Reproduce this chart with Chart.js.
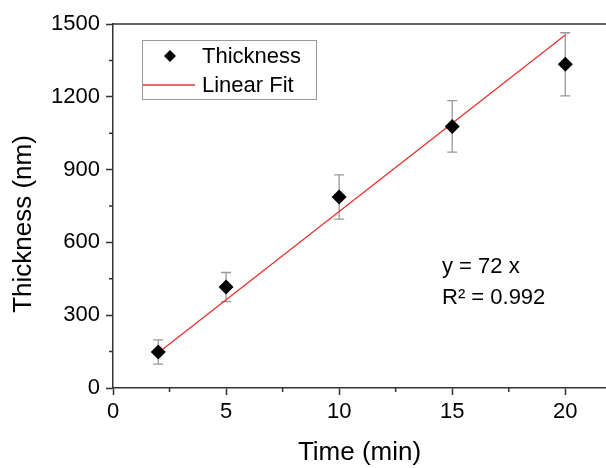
<!DOCTYPE html>
<html>
<head>
<meta charset="utf-8">
<script src="https://cdn.jsdelivr.net/npm/chart.js@4.4.0/dist/chart.umd.min.js"></script>
<style>
  html, body { margin: 0; padding: 0; background: #fff; overflow: hidden; }
  canvas { display: block; }
</style>
</head>
<body>
<canvas id="thicknessChart" width="606" height="468"></canvas>
<script>
// Данные
const times = [2, 5, 10, 15, 20];
const thickness = [148, 416, 787, 1078, 1334];
const thicknessErr = [50, 60, 91, 106, 130];
const fitTimes = [2, 20];
const fitValues = [145, 1455];
const xMax = 21.8;
const xTicks = [0, 5, 10, 15, 20];
const xMinorTicks = [2.5, 7.5, 12.5, 17.5];
const yTicks = [0, 300, 600, 900, 1200, 1500];
const yMinorTicks = [150, 450, 750, 1050, 1350];
const fitText = ["y = 72 x", "R² = 0.992"];

const FONT = "'Liberation Sans', Arial, sans-serif";
const AXIS_COLOR = "#333";

// Планки погрешностей
const errorBars = {
  id: "errorBars",
  beforeDatasetsDraw(chart) {
    const { ctx, scales: { x, y } } = chart;
    ctx.save();
    ctx.strokeStyle = "#999";
    ctx.lineWidth = 1.3;
    times.forEach((t, i) => {
      const px = x.getPixelForValue(t);
      const top = y.getPixelForValue(thickness[i] + thicknessErr[i]);
      const bottom = y.getPixelForValue(thickness[i] - thicknessErr[i]);
      ctx.beginPath();
      ctx.moveTo(px, top);
      ctx.lineTo(px, bottom);
      ctx.moveTo(px - 5, top);
      ctx.lineTo(px + 5, top);
      ctx.moveTo(px - 5, bottom);
      ctx.lineTo(px + 5, bottom);
      ctx.stroke();
    });
    ctx.restore();
  },
};

// Рамка сверху, малые деления, легенда, подписи
const decorations = {
  id: "decorations",
  afterDraw(chart) {
    const { ctx, chartArea, scales: { x, y } } = chart;
    ctx.save();

    // верхняя линия рамки
    ctx.strokeStyle = AXIS_COLOR;
    ctx.lineWidth = 1.5;
    ctx.beginPath();
    ctx.moveTo(chartArea.left, chartArea.top);
    ctx.lineTo(chartArea.right, chartArea.top);
    ctx.stroke();

    // малые деления
    ctx.beginPath();
    xMinorTicks.forEach((v) => {
      const px = x.getPixelForValue(v);
      ctx.moveTo(px, chartArea.bottom);
      ctx.lineTo(px, chartArea.bottom + 4);
    });
    yMinorTicks.forEach((v) => {
      const py = y.getPixelForValue(v);
      ctx.moveTo(chartArea.left, py);
      ctx.lineTo(chartArea.left - 4, py);
    });
    ctx.stroke();

    // легенда
    const ds = chart.data.datasets;
    ctx.strokeStyle = "#999";
    ctx.lineWidth = 1;
    ctx.strokeRect(142.5, 40.5, 174, 59);

    ctx.fillStyle = "#000";
    ctx.beginPath();
    ctx.moveTo(170, 50);
    ctx.lineTo(176, 56);
    ctx.lineTo(170, 62);
    ctx.lineTo(164, 56);
    ctx.closePath();
    ctx.fill();

    ctx.strokeStyle = ds[1].borderColor;
    ctx.lineWidth = 1.5;
    ctx.beginPath();
    ctx.moveTo(143, 85);
    ctx.lineTo(195, 85);
    ctx.stroke();

    ctx.font = "22px " + FONT;
    ctx.textBaseline = "middle";
    ctx.textAlign = "left";
    ctx.fillText(ds[0].label, 202, 57);
    ctx.fillText(ds[1].label, 202, 86);

    // уравнение аппроксимации
    ctx.fillText(fitText[0], 442, 267);
    ctx.fillText(fitText[1], 442, 298);

    // подпись оси Y
    ctx.font = "26px " + FONT;
    ctx.translate(24, 224);
    ctx.rotate(-Math.PI / 2);
    ctx.textAlign = "center";
    ctx.fillText("Thickness (nm)", 0, 0);

    ctx.restore();
  },
};

const ctx = document.getElementById("thicknessChart").getContext("2d");
new Chart(ctx, {
  type: "scatter",
  data: {
    datasets: [
      {
        label: "Thickness",
        data: times.map((t, i) => ({ x: t, y: thickness[i] })),
        pointStyle: "rectRot",
        pointRadius: 7.5,
        pointHoverRadius: 7.5,
        backgroundColor: "#000",
        borderWidth: 0,
        order: 0,
      },
      {
        label: "Linear Fit",
        type: "line",
        data: fitTimes.map((t, i) => ({ x: t, y: fitValues[i] })),
        borderColor: "#e8322e",
        borderWidth: 1.3,
        pointRadius: 0,
        showLine: true,
        fill: false,
        order: 1,
      },
    ],
  },
  options: {
    responsive: false,
    animation: false,
    layout: {
      autoPadding: false,
      padding: { top: 24, right: 0, bottom: 0, left: 0 },
    },
    plugins: {
      legend: { display: false },
      tooltip: { enabled: false },
    },
    scales: {
      x: {
        type: "linear",
        min: 0,
        max: xMax,
        afterBuildTicks: (scale) => {
          scale.ticks = xTicks.map((v) => ({ value: v }));
        },
        afterFit: (scale) => {
          scale.height = 80;
          // ось уходит за правый край картинки
          scale.paddingRight = 0;
          scale.paddingLeft = 0;
        },
        ticks: {
          color: "#000",
          padding: 4,
          font: { family: FONT, size: 22 },
        },
        grid: {
          drawOnChartArea: false,
          tickLength: 7,
          tickColor: AXIS_COLOR,
          tickWidth: 1.5,
        },
        border: { color: AXIS_COLOR, width: 1.5 },
        title: {
          display: true,
          text: "Time (min)",
          color: "#000",
          font: { family: FONT, size: 26 },
          padding: { top: 0, bottom: 0 },
        },
      },
      y: {
        min: 0,
        max: 1500,
        afterBuildTicks: (scale) => {
          scale.ticks = yTicks.map((v) => ({ value: v }));
        },
        afterFit: (scale) => {
          scale.width = 113;
        },
        ticks: {
          color: "#000",
          padding: 6,
          font: { family: FONT, size: 22 },
          callback: (v) => String(v),
        },
        grid: {
          drawOnChartArea: false,
          tickLength: 7,
          tickColor: AXIS_COLOR,
          tickWidth: 1.5,
        },
        border: { color: AXIS_COLOR, width: 1.5 },
      },
    },
  },
  plugins: [errorBars, decorations],
});
</script>
</body>
</html>
